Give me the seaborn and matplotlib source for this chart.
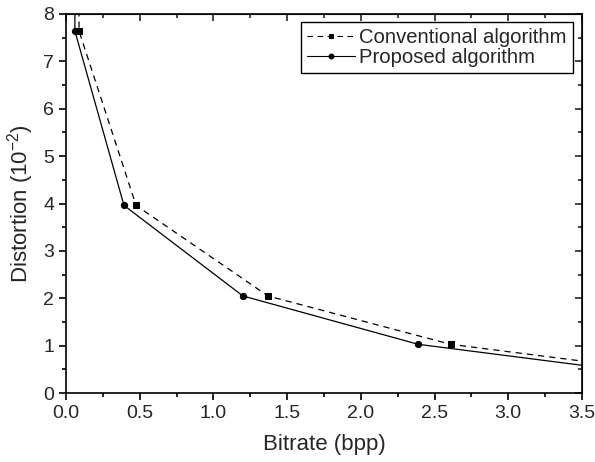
import numpy as np
import pandas as pd
import matplotlib
matplotlib.use("Agg")
import matplotlib.pyplot as plt
import seaborn as sns

# values (first/last points lie outside the axes and get clipped)
conv_bitrate = [0.088, 0.088, 0.475, 1.37, 2.61, 4.2]
conv_distortion = [12.0, 7.64, 3.96, 2.05, 1.03, 0.40]
prop_bitrate = [0.06, 0.06, 0.393, 1.20, 2.39, 4.2]
prop_distortion = [12.0, 7.64, 3.96, 2.05, 1.03, 0.31]

conv = pd.DataFrame({"bitrate": conv_bitrate, "distortion": conv_distortion})
prop = pd.DataFrame({"bitrate": prop_bitrate, "distortion": prop_distortion})

sns.set_style("ticks")
plt.rcParams['font.family'] = ['Liberation Sans', 'DejaVu Sans']
plt.rcParams['mathtext.fontset'] = 'custom'
plt.rcParams['mathtext.rm'] = 'Liberation Sans'

fig = plt.figure(figsize=(5.95, 4.62), dpi=100)
ax = fig.add_axes([0.111, 0.149, 0.867, 0.821])

sns.lineplot(data=conv, x="bitrate", y="distortion", sort=False, estimator=None, ax=ax,
             color="black", lw=0.9, linestyle=(0, (5, 4)), marker="s", markersize=4.5,
             markeredgecolor="black", label="Conventional algorithm")
sns.lineplot(data=prop, x="bitrate", y="distortion", sort=False, estimator=None, ax=ax,
             color="black", lw=0.9, marker="o", markersize=4.5,
             markeredgecolor="black", label="Proposed algorithm")

ax.set_xlim(0, 3.5)
ax.set_ylim(0, 8)
ax.set_xticks(np.arange(0, 3.51, 0.5))
ax.set_xticks(np.arange(0.25, 3.5, 0.5), minor=True)
ax.set_yticks(np.arange(0, 9, 1))
ax.set_yticks(np.arange(0.5, 8, 1), minor=True)
ax.xaxis.set_major_formatter(matplotlib.ticker.FormatStrFormatter('%.1f'))

for s in ax.spines.values():
    s.set_visible(True)
    s.set_color("black")
    s.set_linewidth(1.2)

ax.tick_params(which="both", direction="out", bottom=True, left=True, top=False, right=False,
               color="black", width=1.2)
ax.tick_params(which="major", length=5, labelsize=14)
ax.tick_params(which="minor", length=3)
# inward ticks on top and right
sec_x = ax.secondary_xaxis("top")
sec_x.set_xticks(np.arange(0, 3.51, 0.5))
sec_x.set_xticks(np.arange(0.25, 3.5, 0.5), minor=True)
sec_x.tick_params(which="both", direction="in", labeltop=False, width=1.2)
sec_x.tick_params(which="major", length=5)
sec_x.tick_params(which="minor", length=3)
sec_y = ax.secondary_yaxis("right")
sec_y.set_yticks(np.arange(0, 9, 1))
sec_y.set_yticks(np.arange(0.5, 8, 1), minor=True)
sec_y.tick_params(which="both", direction="in", labelright=False, width=1.2)
sec_y.tick_params(which="major", length=5)
sec_y.tick_params(which="minor", length=3)

ax.set_xlabel("Bitrate (bpp)", fontsize=16, labelpad=9)
ax.set_ylabel("Distortion (10$^{-2}$)", fontsize=16, labelpad=5)

leg = ax.legend(loc="upper right", fontsize=14.6, numpoints=1, frameon=True, fancybox=False,
                edgecolor="black", handlelength=2.36, borderpad=0.3, labelspacing=0.05,
                handletextpad=0.2, borderaxespad=0, bbox_to_anchor=(0.9826, 0.979))
leg.get_frame().set_linewidth(1.0)
leg.get_frame().set_alpha(1)
for h in leg.legend_handles:
    h.set_linewidth(0.8)
    h.set_markersize(3.5)

fig.savefig("out.png", dpi=100)
